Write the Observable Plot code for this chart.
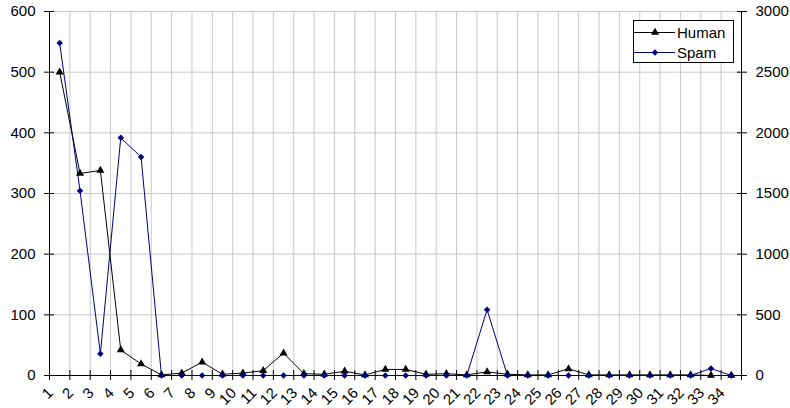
<!DOCTYPE html>
<html>
<head>
<meta charset="utf-8">
<script src="https://cdn.jsdelivr.net/npm/d3@7"></script>
<script src="https://cdn.jsdelivr.net/npm/@observablehq/plot@0.6"></script>
<style>
  html, body { margin: 0; padding: 0; background: #fff; }
  #chart svg { display: block; }
</style>
</head>
<body>
<div id="chart"></div>
<script>
// ---- data ----
const categories = [1,2,3,4,5,6,7,8,9,10,11,12,13,14,15,16,17,18,19,20,21,22,23,24,25,26,27,28,29,30,31,32,33,34];
const human = [500,333,338,42,19,1,4,22,2,4,8,37,3,2,7,1,10,10,2,3,1,6,2,1,1,11,1,1,1,1,1,1,0,0];
const spam  = [2740,1523,179,1959,1801,0,0,0,0,0,0,0,0,0,0,0,0,0,0,0,0,542,0,0,0,0,0,0,0,0,0,0,58,0];
const leftTicks  = [0,100,200,300,400,500,600];
const rightTicks = [0,500,1000,1500,2000,2500,3000];
const seriesNames = ["Human", "Spam"];
const seriesColors = ["#000000", "#000080"];

const ratio = rightTicks[rightTicks.length - 1] / leftTicks[leftTicks.length - 1];
const rows = categories.map((c, i) => ({cat: c, human: human[i], spam: spam[i]}));
const boundaries = [0, ...categories].map(c => c + 0.5);
const font = "'Liberation Sans', Arial, Helvetica, sans-serif";

const chart = Plot.plot({
  width: 790,
  height: 408,
  marginLeft: 49,
  marginRight: 49,
  marginTop: 11,
  marginBottom: 33,
  style: {fontFamily: font, background: "#fff", color: "#000"},
  x: {domain: [boundaries[0], boundaries[boundaries.length - 1]], axis: null},
  y: {domain: [leftTicks[0], leftTicks[leftTicks.length - 1]], axis: null},
  marks: [
    Plot.gridY(leftTicks, {stroke: "#c8c8c8", strokeOpacity: 1}),
    Plot.gridX(boundaries, {stroke: "#c8c8c8", strokeOpacity: 1}),
    Plot.frame({anchor: "left", stroke: "#000"}),
    Plot.frame({anchor: "right", stroke: "#000"}),
    Plot.frame({anchor: "bottom", stroke: "#000"}),
    // left axis
    Plot.axisY(leftTicks, {anchor: "left", label: null, tickSize: 10, dx: 5, tickPadding: 9, fontSize: 15, stroke: "#000", fill: "#000"}),
    // right axis (spam scale)
    Plot.axisY(rightTicks.map(d => d / ratio), {anchor: "right", label: null, tickSize: 10, dx: -5, tickPadding: 9, fontSize: 15,
      tickFormat: d => String(Math.round(d * ratio)), stroke: "#000", fill: "#000"}),
    // bottom ticks
    Plot.axisX(boundaries, {anchor: "bottom", label: null, tickSize: 10, dy: -5, fill: "none", stroke: "#000"}),
    // category labels
    Plot.text(categories, {x: d => d - 0.5, frameAnchor: "bottom", dy: 15, dx: 1, rotate: -45,
      textAnchor: "end", lineAnchor: "middle", fontSize: 15, fill: "#000", text: d => String(d)}),
    // series
    Plot.line(rows, {x: "cat", y: "human", stroke: seriesColors[0], strokeWidth: 1}),
    Plot.line(rows, {x: "cat", y: d => d.spam / ratio, stroke: seriesColors[1], strokeWidth: 1}),
    Plot.dot(rows, {x: "cat", y: "human", symbol: "triangle", r: 3, fill: seriesColors[0], stroke: null}),
    Plot.dot(rows, {x: "cat", y: d => d.spam / ratio, symbol: "square", rotate: 45, r: 2.6, fill: seriesColors[1], stroke: null})
  ]
});

document.getElementById("chart").appendChild(chart);

// legend (inside the plot area, top right)
const svg = d3.select(chart);
const lg = svg.append("g").attr("font-family", font).attr("font-size", 15).attr("text-anchor", "start");
lg.append("rect").attr("x", 633.5).attr("y", 20.5).attr("width", 100).attr("height", 42)
  .attr("fill", "#fff").attr("stroke", "#000").attr("stroke-width", 1);
const symbols = [d3.symbol(d3.symbolTriangle, Math.PI * 9), d3.symbol(d3.symbolSquare, Math.PI * 2.6 * 2.6)];
seriesNames.forEach((name, i) => {
  const y = 32.5 + i * 20;
  lg.append("line").attr("x1", 634).attr("x2", 675).attr("y1", y).attr("y2", y)
    .attr("stroke", seriesColors[i]).attr("stroke-width", 1);
  lg.append("path").attr("d", symbols[i]())
    .attr("transform", `translate(655,${y})${i === 1 ? " rotate(45)" : ""}`)
    .attr("fill", seriesColors[i]);
  lg.append("text").attr("x", 677).attr("y", y).attr("dy", "0.35em").attr("text-anchor", "start")
    .attr("fill", "#000").text(name);
});
</script>
</body>
</html>
